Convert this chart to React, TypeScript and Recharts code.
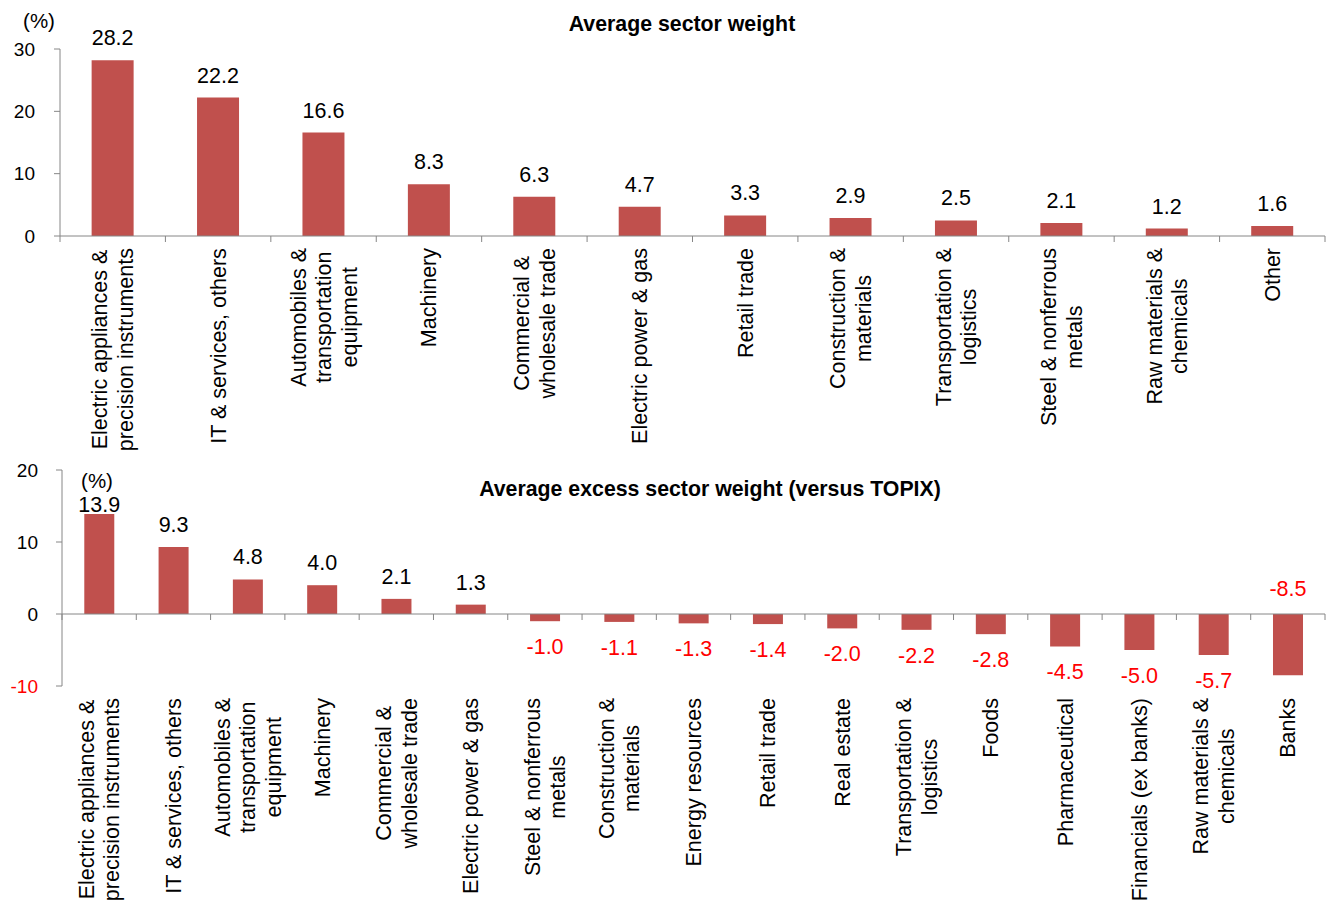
import React from 'react';
import { BarChart, Bar, XAxis, YAxis, ReferenceLine, LabelList } from 'recharts';

const FONT = '"Liberation Sans", Arial, sans-serif';
const BAR_COLOR = '#C0504D';
const AXIS_COLOR = '#868686';
const NEG_COLOR = '#FF0000';
const LABEL_SIZE = 21.5;
const TICK_SIZE = 19;
const LINE_H = 25.5;

// top panel: average sector weight
const sectorNames = [
  'Electric appliances &\nprecision instruments',
  'IT & services, others',
  'Automobiles &\ntransportation\nequipment',
  'Machinery',
  'Commercial &\nwholesale trade',
  'Electric power & gas',
  'Retail trade',
  'Construction &\nmaterials',
  'Transportation &\nlogistics',
  'Steel & nonferrous\nmetals',
  'Raw materials &\nchemicals',
  'Other',
];
const sectorWeights = [28.2, 22.2, 16.6, 8.3, 6.3, 4.7, 3.3, 2.9, 2.5, 2.1, 1.2, 1.6];
const weightTicks = [0, 10, 20, 30];

// bottom panel: excess weight vs TOPIX
const excessNames = [
  'Electric appliances &\nprecision instruments',
  'IT & services, others',
  'Automobiles &\ntransportation\nequipment',
  'Machinery',
  'Commercial &\nwholesale trade',
  'Electric power & gas',
  'Steel & nonferrous\nmetals',
  'Construction &\nmaterials',
  'Energy resources',
  'Retail trade',
  'Real estate',
  'Transportation &\nlogistics',
  'Foods',
  'Pharmaceutical',
  'Financials (ex banks)',
  'Raw materials &\nchemicals',
  'Banks',
];
const excessWeights = [13.9, 9.3, 4.8, 4.0, 2.1, 1.3, -1.0, -1.1, -1.3, -1.4, -2.0, -2.2, -2.8, -4.5, -5.0, -5.7, -8.5];
const excessTicks = [-10, 0, 10, 20];

const weightData = sectorNames.map((name, i) => ({ name, value: sectorWeights[i] }));
const excessData = excessNames.map((name, i) => ({ name, value: excessWeights[i] }));

const W = 1329;

// top chart geometry
const TOP_H = 460;
const TOP_MARGIN = { top: 49, right: 4, left: 0, bottom: 0 };
const TOP_YAXIS_W = 60;
const TOP_PLOT_H = 187;

// bottom chart geometry
const BOT_Y = 455;
const BOT_H = 446;
const BOT_MARGIN = { top: 15, right: 4, left: 0, bottom: 0 };
const BOT_YAXIS_W = 62;
const BOT_PLOT_H = 216;

let measureCtx: CanvasRenderingContext2D | null = null;
function textWidth(s: string, size: number) {
  if (!measureCtx) measureCtx = document.createElement('canvas').getContext('2d');
  if (!measureCtx) return s.length * size * 0.5;
  measureCtx.font = `${size}px "Liberation Sans"`;
  return measureCtx.measureText(s).width;
}

function makeCategoryTick(count: number, plotWidth: number, zeroOffset: number) {
  return (props: any) => {
    const { x, y, payload, index } = props;
    const band = plotWidth / count;
    const lines = String(payload.value).split('\n');
    const maxW = Math.max(...lines.map((l) => textWidth(l, LABEL_SIZE)));
    const tickY = y - zeroOffset;
    return (
      <g>
        {index === 0 && (
          <line x1={x - band / 2} x2={x - band / 2} y1={tickY} y2={tickY + 6} stroke={AXIS_COLOR} />
        )}
        <line x1={x + band / 2} x2={x + band / 2} y1={tickY} y2={tickY + 6} stroke={AXIS_COLOR} />
        <g transform={`translate(${x},${y + 12}) rotate(-90)`}>
          {lines.map((l, i) => (
            <text
              key={i}
              x={-maxW / 2}
              y={(i - (lines.length - 1) / 2) * LINE_H + LABEL_SIZE * 0.35}
              textAnchor="middle"
              fontSize={LABEL_SIZE}
              fontFamily={FONT}
              fill="#000"
            >
              {l}
            </text>
          ))}
        </g>
      </g>
    );
  };
}

const excessYTick = (props: any) => {
  const { x, y, payload } = props;
  return (
    <text x={x} y={y + 7} textAnchor="end" fontSize={TICK_SIZE} fontFamily={FONT} fill={payload.value < 0 ? NEG_COLOR : '#000'}>
      {payload.value}
    </text>
  );
};

const excessLabel = (props: any) => {
  const vb = props.viewBox ?? props;
  const { x, y, width, height } = vb;
  const v = Number(props.value);
  const top = Math.min(y, y + height);
  const bottom = Math.max(y, y + height);
  const plotTop = BOT_MARGIN.top;
  const plotBottom = BOT_MARGIN.top + BOT_PLOT_H;
  let baseline: number;
  if (v >= 0) {
    baseline = Math.max(top - 15, plotTop + 42);
  } else {
    baseline = bottom + 33;
    if (baseline > plotBottom + 5) baseline = top - 18;
  }
  return (
    <text
      x={x + width / 2}
      y={baseline}
      textAnchor="middle"
      fontSize={LABEL_SIZE}
      fontFamily={FONT}
      fill={v < 0 ? NEG_COLOR : '#000'}
    >
      {v.toFixed(1)}
    </text>
  );
};

const abs = (left: number, top: number, extra: React.CSSProperties = {}): React.CSSProperties => ({
  position: 'absolute',
  left,
  top,
  transform: 'translate(-50%, -50%)',
  fontFamily: FONT,
  fontSize: 20.5,
  lineHeight: 1,
  whiteSpace: 'nowrap',
  color: '#000',
  ...extra,
});

export default function App() {
  const topPlotW = W - TOP_YAXIS_W - TOP_MARGIN.right;
  const botPlotW = W - BOT_YAXIS_W - BOT_MARGIN.right;
  return (
    <div style={{ position: 'absolute', left: 0, top: 0, width: W, height: 901, background: '#fff' }}>
      <div style={{ position: 'absolute', left: 0, top: 0 }}>
        <BarChart width={W} height={TOP_H} data={weightData} margin={TOP_MARGIN} barCategoryGap="30%">
          <YAxis
            width={TOP_YAXIS_W}
            domain={[0, 30]}
            ticks={weightTicks}
            interval={0}
            axisLine={{ stroke: AXIS_COLOR }}
            tickLine={{ stroke: AXIS_COLOR }}
            tickSize={6}
            tickMargin={19}
            tick={{ fill: '#000', fontSize: TICK_SIZE, fontFamily: FONT }}
          />
          <XAxis
            dataKey="name"
            height={TOP_H - TOP_MARGIN.top - TOP_PLOT_H}
            interval={0}
            axisLine={{ stroke: AXIS_COLOR }}
            tickLine={false}
            tickSize={0}
            tickMargin={0}
            tick={makeCategoryTick(sectorNames.length, topPlotW, 0)}
          />
          <Bar dataKey="value" fill={BAR_COLOR} isAnimationActive={false}>
            <LabelList dataKey="value" position="top" offset={15} fill="#000" fontSize={LABEL_SIZE} fontFamily={FONT} formatter={(v: any) => Number(v).toFixed(1)} />
          </Bar>
        </BarChart>
      </div>
      <div style={{ position: 'absolute', left: 0, top: BOT_Y }}>
        <BarChart width={W} height={BOT_H} data={excessData} margin={BOT_MARGIN} barCategoryGap="30%">
          <YAxis
            width={BOT_YAXIS_W}
            domain={[-10, 20]}
            ticks={excessTicks}
            interval={0}
            axisLine={{ stroke: AXIS_COLOR }}
            tickLine={{ stroke: AXIS_COLOR }}
            tickSize={6}
            tickMargin={18}
            tick={excessYTick}
          />
          <XAxis
            dataKey="name"
            height={BOT_H - BOT_MARGIN.top - BOT_PLOT_H}
            interval={0}
            axisLine={false}
            tickLine={false}
            tickSize={0}
            tickMargin={0}
            tick={makeCategoryTick(excessNames.length, botPlotW, (BOT_PLOT_H * 10) / 30)}
          />
          <ReferenceLine y={0} stroke={AXIS_COLOR} />
          <Bar dataKey="value" fill={BAR_COLOR} isAnimationActive={false}>
            <LabelList dataKey="value" content={excessLabel} />
          </Bar>
        </BarChart>
      </div>
      <div style={abs(39, 21)}>(%)</div>
      <div style={abs(682, 25, { fontWeight: 'bold', fontSize: 21.3 })}>Average sector weight</div>
      <div style={abs(97, 481)}>(%)</div>
      <div style={abs(710, 490, { fontWeight: 'bold', fontSize: 21.3 })}>Average excess sector weight (versus TOPIX)</div>
    </div>
  );
}
